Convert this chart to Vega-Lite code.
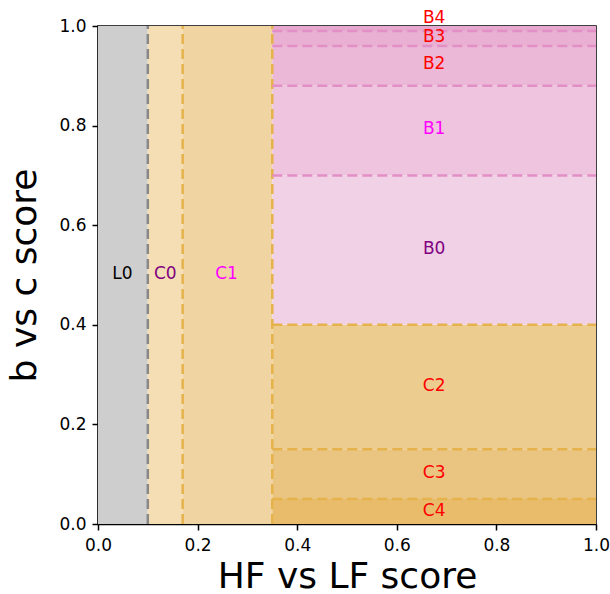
{
  "$schema": "https://vega.github.io/schema/vega-lite/v6.json",
  "autosize": "none",
  "width": 498,
  "height": 498,
  "padding": {"left": 98, "top": 26, "right": 14, "bottom": 70},
  "background": "white",
  "config": {
    "view": {"stroke": "black", "strokeWidth": 1.5},
    "font": "DejaVu Sans",
    "axis": {
      "domainColor": "black", "domainWidth": 1.5,
      "tickColor": "black", "tickWidth": 1.5, "tickSize": 6,
      "labelColor": "black", "labelFontSize": 17, "labelFont": "DejaVu Sans",
      "labelPadding": 6,
      "titleColor": "black", "titleFontSize": 36, "titleFontWeight": "normal", "titleFont": "DejaVu Sans",
      "grid": false, "labelFlush": false
    }
  },
  "datasets": {
    "regions": [
      {"region": "L0", "x0": 0.0, "x1": 0.1, "y0": 0.0, "y1": 1.0},
      {"region": "C0", "x0": 0.1, "x1": 0.17, "y0": 0.0, "y1": 1.0},
      {"region": "C1", "x0": 0.17, "x1": 0.35, "y0": 0.0, "y1": 1.0},
      {"region": "C4", "x0": 0.35, "x1": 1.0, "y0": 0.0, "y1": 0.05},
      {"region": "C3", "x0": 0.35, "x1": 1.0, "y0": 0.05, "y1": 0.15},
      {"region": "C2", "x0": 0.35, "x1": 1.0, "y0": 0.15, "y1": 0.4},
      {"region": "B0", "x0": 0.35, "x1": 1.0, "y0": 0.4, "y1": 0.7},
      {"region": "B1", "x0": 0.35, "x1": 1.0, "y0": 0.7, "y1": 0.88},
      {"region": "B2", "x0": 0.35, "x1": 1.0, "y0": 0.88, "y1": 0.96},
      {"region": "B3", "x0": 0.35, "x1": 1.0, "y0": 0.96, "y1": 0.99},
      {"region": "B4", "x0": 0.35, "x1": 1.0, "y0": 0.99, "y1": 1.0}
    ],
    "lines": [
      {"kind": "gray", "x0": 0.1, "x1": 0.1, "y0": 0.0, "y1": 1.0},
      {"kind": "orange", "x0": 0.17, "x1": 0.17, "y0": 0.0, "y1": 1.0},
      {"kind": "orange", "x0": 0.35, "x1": 0.35, "y0": 0.0, "y1": 1.0},
      {"kind": "orange", "x0": 0.35, "x1": 1.0, "y0": 0.05, "y1": 0.05},
      {"kind": "orange", "x0": 0.35, "x1": 1.0, "y0": 0.15, "y1": 0.15},
      {"kind": "orange", "x0": 0.35, "x1": 1.0, "y0": 0.4, "y1": 0.4},
      {"kind": "pink", "x0": 0.35, "x1": 1.0, "y0": 0.7, "y1": 0.7},
      {"kind": "pink", "x0": 0.35, "x1": 1.0, "y0": 0.88, "y1": 0.88},
      {"kind": "pink", "x0": 0.35, "x1": 1.0, "y0": 0.96, "y1": 0.96},
      {"kind": "pink", "x0": 0.35, "x1": 1.0, "y0": 0.99, "y1": 0.99}
    ],
    "labels": [
      {"label": "L0", "tone": "black", "x": 0.049, "y": 0.502},
      {"label": "C0", "tone": "purple", "x": 0.135, "y": 0.502},
      {"label": "C1", "tone": "magenta", "x": 0.258, "y": 0.502},
      {"label": "B0", "tone": "purple", "x": 0.675, "y": 0.552},
      {"label": "B1", "tone": "magenta", "x": 0.675, "y": 0.793},
      {"label": "B2", "tone": "red", "x": 0.675, "y": 0.924},
      {"label": "B3", "tone": "red", "x": 0.675, "y": 0.978},
      {"label": "B4", "tone": "red", "x": 0.675, "y": 1.016},
      {"label": "C2", "tone": "red", "x": 0.675, "y": 0.277},
      {"label": "C3", "tone": "red", "x": 0.675, "y": 0.102},
      {"label": "C4", "tone": "red", "x": 0.675, "y": 0.026}
    ]
  },
  "layer": [
    {
      "data": {"name": "regions"},
      "mark": {"type": "rect", "strokeWidth": 0},
      "encoding": {
        "x": {"field": "x0", "type": "quantitative", "scale": {"domain": [0, 1], "nice": false, "zero": false},
              "axis": {"title": "HF vs LF score", "values": [0, 0.2, 0.4, 0.6, 0.8, 1.0], "format": ".1f", "labelPadding": 7, "titlePadding": 6}},
        "x2": {"field": "x1"},
        "y": {"field": "y0", "type": "quantitative", "scale": {"domain": [0, 1], "nice": false, "zero": false},
              "axis": {"title": "b vs c score", "values": [0, 0.2, 0.4, 0.6, 0.8, 1.0], "format": ".1f", "titlePadding": 15}},
        "y2": {"field": "y1"},
        "color": {"field": "region", "type": "nominal", "legend": null,
          "scale": {
            "domain": ["L0", "C0", "C1", "C2", "C3", "C4", "B0", "B1", "B2", "B3", "B4"],
            "range": ["#cecece", "#f5deb4", "#f0d5a2", "#edcd8f", "#eac581", "#e8bc6b", "#f0d1e6", "#eec4de", "#ecb8d8", "#e9b0d3", "#e6a8ce"]
          }}
      }
    },
    {
      "data": {"name": "lines"},
      "mark": {"type": "rule", "strokeDash": [10, 5], "strokeWidth": 2.5},
      "encoding": {
        "x": {"field": "x0", "type": "quantitative"},
        "x2": {"field": "x1"},
        "y": {"field": "y0", "type": "quantitative"},
        "y2": {"field": "y1"},
        "stroke": {"field": "kind", "type": "nominal", "legend": null,
          "scale": {"domain": ["gray", "orange", "pink"], "range": ["#888888", "#e6b24c", "#e28fc6"]}}
      }
    },
    {
      "data": {"name": "labels"},
      "mark": {"type": "text", "fontSize": 17, "font": "DejaVu Sans", "align": "center", "baseline": "middle"},
      "encoding": {
        "x": {"field": "x", "type": "quantitative"},
        "y": {"field": "y", "type": "quantitative"},
        "text": {"field": "label", "type": "nominal"},
        "fill": {"field": "tone", "type": "nominal", "legend": null,
          "scale": {"domain": ["black", "purple", "magenta", "red"], "range": ["#000000", "#800080", "#ff00ff", "#ff0000"]}}
      }
    }
  ],
  "resolve": {"scale": {"color": "independent", "stroke": "independent", "fill": "independent"}}
}
